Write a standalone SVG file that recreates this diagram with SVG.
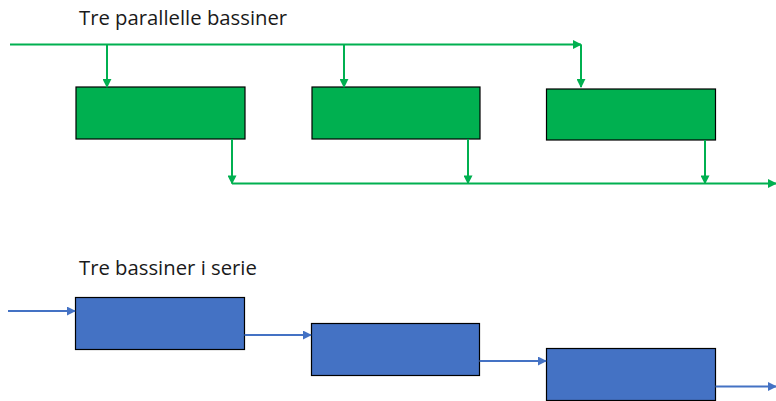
<svg xmlns="http://www.w3.org/2000/svg" width="776" height="401" viewBox="0 0 776 401">
<style>
.title{font-family:"Open Sans","Noto Sans","Liberation Sans",sans-serif;font-size:20.3px;fill:#1a1a1a}
.g{fill:#00B050;stroke:#000;stroke-width:1.2}
.b{fill:#4472C4;stroke:#000;stroke-width:1.2}
.gl{fill:none;stroke:#00B050;stroke-width:2}
.bl{fill:none;stroke:#4472C4;stroke-width:2}
</style>
<defs>
<marker id="ag" viewBox="0 0 10 10" refX="9" refY="5" markerWidth="4.5" markerHeight="4.5" orient="auto" markerUnits="strokeWidth">
<path d="M0,0 L10,5 L0,10 z" fill="#00B050"/>
</marker>
<marker id="ab" viewBox="0 0 10 10" refX="9" refY="5" markerWidth="4.5" markerHeight="4.5" orient="auto" markerUnits="strokeWidth">
<path d="M0,0 L10,5 L0,10 z" fill="#4472C4"/>
</marker>
</defs>
<text class="title" x="79" y="25">Tre parallelle bassiner</text>
<text class="title" x="79" y="275">Tre bassiner i serie</text>
<g id="p1"><rect class="g" x="76" y="87" width="169" height="52"/></g>
<g id="p2"><rect class="g" x="312" y="87" width="168" height="52"/></g>
<g id="p3"><rect class="g" x="546.5" y="89" width="169" height="51"/></g>
<g id="s1"><rect class="b" x="75.5" y="297.5" width="169" height="52"/></g>
<g id="s2"><rect class="b" x="311.5" y="323.5" width="168" height="52"/></g>
<g id="s3"><rect class="b" x="546.5" y="348.5" width="169" height="52"/></g>
<g id="connectors">
<path class="gl" d="M10,44.5 H581" marker-end="url(#ag)"/>
<path class="gl" d="M581,44.5 V87" marker-end="url(#ag)"/>
<path class="gl" d="M107,44.5 V87" marker-end="url(#ag)"/>
<path class="gl" d="M344,44.5 V87" marker-end="url(#ag)"/>
<path class="gl" d="M232,139 V183.5" marker-end="url(#ag)"/>
<path class="gl" d="M468,139 V183.5" marker-end="url(#ag)"/>
<path class="gl" d="M705,140 V183.5" marker-end="url(#ag)"/>
<path class="gl" d="M232,183.5 H776" marker-end="url(#ag)"/>
<path class="bl" d="M8,311 H75" marker-end="url(#ab)"/>
<path class="bl" d="M244.5,335 H311" marker-end="url(#ab)"/>
<path class="bl" d="M479.5,361 H546" marker-end="url(#ab)"/>
<path class="bl" d="M715.5,386.5 H776" marker-end="url(#ab)"/>
</g>
</svg>
